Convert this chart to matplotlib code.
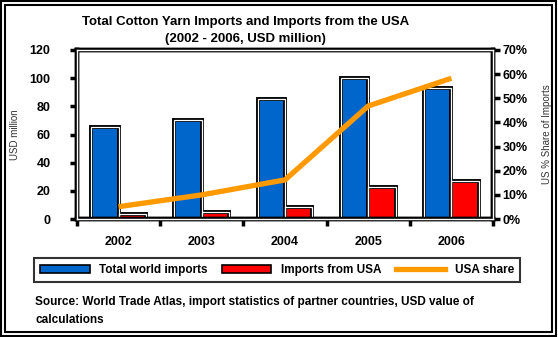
import matplotlib.pyplot as plt
from matplotlib.patches import Rectangle, Patch
from matplotlib.lines import Line2D
from matplotlib.ticker import FuncFormatter

plt.rcParams['font.family'] = ['Liberation Sans', 'DejaVu Sans']

# data
years = ['2002', '2003', '2004', '2005', '2006']
world_imports = [65, 70, 85, 100, 93]   # USD million
us_imports = [3.5, 5, 8.5, 23, 27]      # USD million
us_share = [5.1, 10, 16.2, 46.8, 58.3]  # %

blue = '#0066CC'
red = '#FF0000'
orange = '#FF9900'

fig = plt.figure(figsize=(5.58, 3.37), dpi=100)
ax = fig.add_axes([77/558, 1 - 219/337, 416/558, 169/337])
ax2 = ax.twinx()

x = list(range(len(years)))
w = 0.33
xb = [i - 0.165 for i in x]
xr = [i + 0.165 for i in x]

# bars with black-white-black outline
ax.bar(xb, world_imports, w, color=blue, edgecolor='black', linewidth=2.8, zorder=2)
ax.bar(xb, world_imports, w, fill=False, edgecolor='white', linewidth=0.9, zorder=3)
ax.bar(xr, us_imports, w, color=red, edgecolor='black', linewidth=2.8, zorder=2)
ax.bar(xr, us_imports, w, fill=False, edgecolor='white', linewidth=0.9, zorder=3)

ax2.plot(x, us_share, color=orange, linewidth=3.8, solid_capstyle='butt', zorder=4)

ax.set_xlim(-0.5, 4.5)
ax.set_ylim(0, 120)
ax.set_yticks(range(0, 121, 20))
ax2.set_ylim(0, 70)
ax2.set_yticks(range(0, 71, 10))
ax2.yaxis.set_major_formatter(FuncFormatter(lambda v, p: f'{v:.0f}%'))

ax.set_xticks(x)
ax.set_xticklabels(years)
ax.set_xticks([i - 0.5 for i in range(6)], minor=True)
ax.tick_params(axis='x', which='major', length=0, pad=12)
ax.tick_params(axis='x', which='minor', length=5, width=2.5, direction='out')
ax.tick_params(axis='y', length=5, width=2.5, pad=14)
ax2.tick_params(axis='y', length=5, width=2.5, pad=2)
for lab in ax.get_xticklabels() + ax.get_yticklabels() + ax2.get_yticklabels():
    lab.set_fontsize(9)
    lab.set_fontweight('bold')

for a in (ax, ax2):
    for s in a.spines.values():
        s.set_linewidth(3.2)
        s.set_color('black')
# white core line inside the spines
for s in ('left', 'right', 'top', 'bottom'):
    if s in ('left', 'right'):
        xx = [0, 0] if s == 'left' else [1, 1]
        ax2.plot(xx, [0, 1], color='white', lw=1.0, transform=ax.transAxes, clip_on=False, zorder=10)
    else:
        yy = [0, 0] if s == 'bottom' else [1, 1]
        ax2.plot([0, 1], yy, color='white', lw=1.0, transform=ax.transAxes, clip_on=False, zorder=10)

ax.set_ylabel('USD million', fontsize=7, color='#333333')
ax.yaxis.set_label_coords(-0.137, 0.5)
ax2.set_ylabel('US % Share of Imports', fontsize=7, color='#333333', labelpad=10)

fig.text(0.44, 0.935, 'Total Cotton Yarn Imports and Imports from the USA',
         ha='center', va='center', fontsize=9.5, fontweight='bold')
fig.text(0.44, 0.885, '(2002 - 2006, USD million)',
         ha='center', va='center', fontsize=9.5, fontweight='bold')

handles = [Patch(facecolor=blue, edgecolor='black', linewidth=1.2),
           Patch(facecolor=red, edgecolor='black', linewidth=1.2),
           Line2D([], [], color=orange, linewidth=3.8)]
labels = ['Total world imports', 'Imports from USA', 'USA share']
leg = fig.legend(handles, labels, ncol=3, loc='center',
                 bbox_to_anchor=((34 + 520) / 2 / 558, 1 - 270 / 337),
                 frameon=True, fancybox=False, edgecolor='black',
                 handlelength=4.2, handleheight=0.6, columnspacing=1.2,
                 borderpad=0.5, prop={'weight': 'bold', 'size': 8.5})
leg.get_frame().set_linewidth(1.5)

fig.text(35 / 558, 1 - 302 / 337,
         'Source: World Trade Atlas, import statistics of partner countries, USD value of',
         ha='left', va='center', fontsize=8.5, fontweight='bold')
fig.text(35 / 558, 1 - 320 / 337, 'calculations',
         ha='left', va='center', fontsize=8.5, fontweight='bold')

# double frame around the figure
fig.patches.append(Rectangle((1 / 558, 1 / 337), 555 / 558, 335 / 337, transform=fig.transFigure,
                             fill=False, edgecolor='black', linewidth=1.5))
fig.patches.append(Rectangle((5 / 558, 5 / 337), 547 / 558, 327 / 337, transform=fig.transFigure,
                             fill=False, edgecolor='black', linewidth=1.5))

fig.savefig('out.png', dpi=100)
